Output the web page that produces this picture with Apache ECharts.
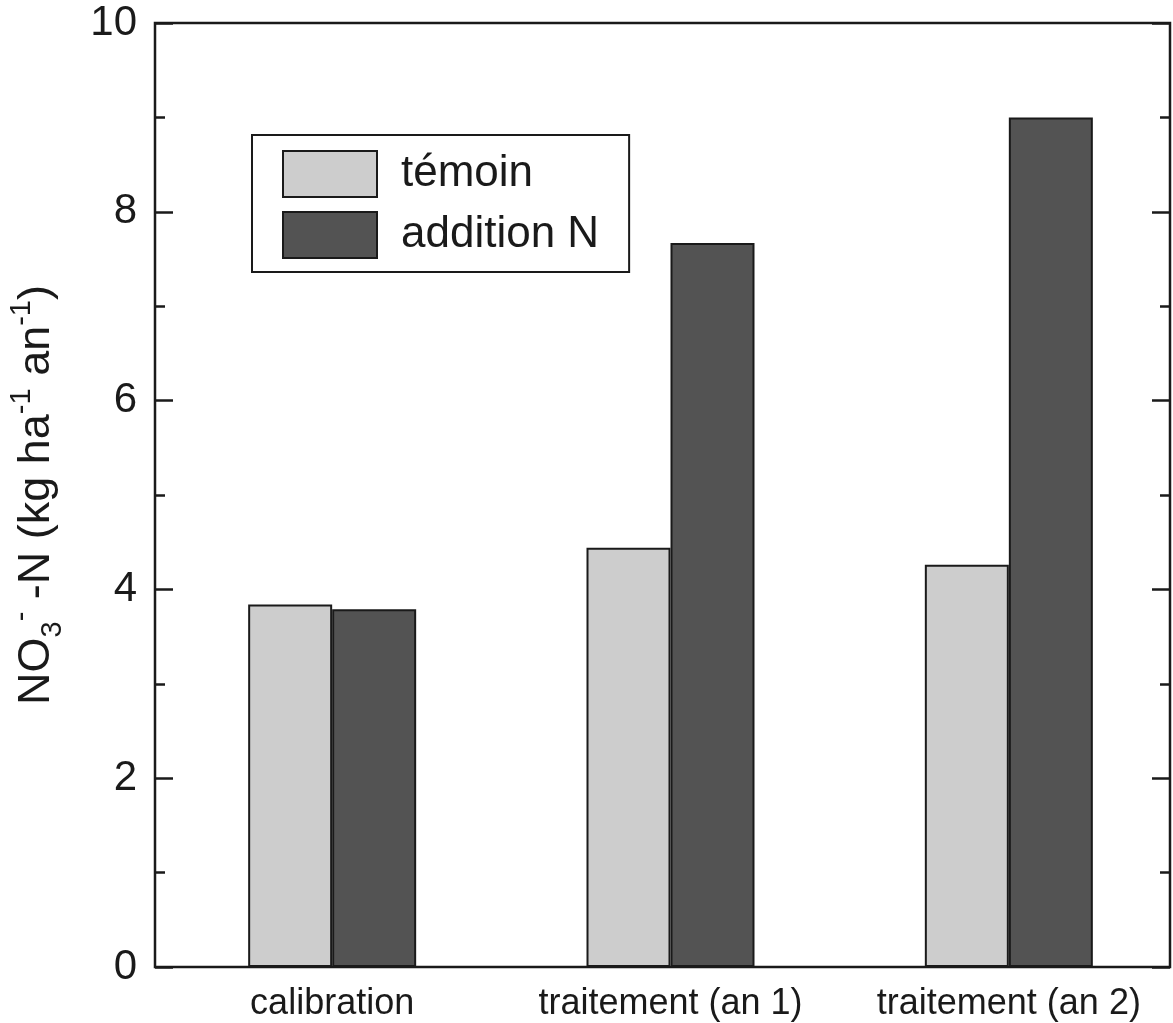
<!DOCTYPE html>
<html>
<head>
<meta charset="utf-8">
<script src="https://cdn.jsdelivr.net/npm/echarts@6/dist/echarts.min.js"></script>
<style>
  html, body { margin: 0; padding: 0; background: #fff; }
  #chart { width: 1173px; height: 1023px; }
</style>
</head>
<body>
<div id="chart"></div>
<script>
// données
const categories = ['calibration', 'traitement (an 1)', 'traitement (an 2)']
const temoin = [3.84, 4.44, 4.26]
const additionN = [3.79, 7.67, 9.0]
const seriesNames = ['témoin', 'addition N']

const font = 'Liberation Sans, Arial, Helvetica, sans-serif'
const chart = echarts.init(document.getElementById('chart'))

const option = {
    backgroundColor: '#fff',
    animation: false,
    textStyle: { fontFamily: font, color: '#1a1a1a' },
    legend: {
        data: seriesNames,
        orient: 'vertical',
        left: 252,
        top: 135,
        padding: [15, 30, 13, 30],
        itemWidth: 94,
        itemHeight: 46,
        itemGap: 13,
        icon: 'rect',
        backgroundColor: '#fff',
        borderColor: '#1a1a1a',
        borderWidth: 2,
        borderRadius: 0,
        textStyle: { fontSize: 44, fontFamily: font, color: '#1a1a1a', padding: [0, 0, 0, 19] }
    },
    grid: [
        // cadre
        { left: 155, top: 23, width: 1015, height: 944, outerBoundsMode: 'none', show: true, borderColor: '#1a1a1a', borderWidth: 2.5, backgroundColor: 'transparent' },
        // barres
        { left: 163, top: 23, width: 1015, height: 944, outerBoundsMode: 'none' }
    ],
    xAxis: [
        { gridIndex: 0, type: 'value', min: 0, max: 1, show: false },
        {
            gridIndex: 1,
            type: 'category',
            data: categories,
            axisLine: { show: false },
            axisTick: { show: false },
            axisLabel: { fontSize: 36, fontFamily: font, color: '#1a1a1a', margin: 19, interval: 0 }
        }
    ],
    yAxis: [
        {
            gridIndex: 0,
            type: 'value',
            min: 0,
            max: 10,
            interval: 2,
            position: 'left',
            axisLine: { show: false },
            axisTick: { show: true, inside: true, length: 18, lineStyle: { color: '#1a1a1a', width: 2.5 } },
            minorTick: { show: true, splitNumber: 2, length: 10, lineStyle: { color: '#1a1a1a', width: 2.5 } },
            splitLine: { show: false },
            axisLabel: { fontSize: 42, fontFamily: font, color: '#1a1a1a', margin: 18 },
            name: '{n|NO}{sub|3}{sup|-}{n| -N (kg ha}{sup|-1}{n| an}{sup|-1}{n|)}',
            nameLocation: 'middle',
            nameGap: 88,
            nameRotate: 90,
            nameTextStyle: {
                rich: {
                    n: { fontSize: 45, fontFamily: font, color: '#1a1a1a', verticalAlign: 'middle' },
                    sub: { fontSize: 29, fontFamily: font, color: '#1a1a1a', verticalAlign: 'bottom', lineHeight: 60 },
                    sup: { fontSize: 29, fontFamily: font, color: '#1a1a1a', verticalAlign: 'top', lineHeight: 60 }
                }
            }
        },
        {
            gridIndex: 0,
            type: 'value',
            min: 0,
            max: 10,
            interval: 2,
            position: 'right',
            axisLine: { show: false },
            axisTick: { show: true, inside: true, length: 18, lineStyle: { color: '#1a1a1a', width: 2.5 } },
            minorTick: { show: true, splitNumber: 2, length: 10, lineStyle: { color: '#1a1a1a', width: 2.5 } },
            splitLine: { show: false },
            axisLabel: { show: false }
        },
        { gridIndex: 1, type: 'value', min: 0, max: 10, show: false }
    ],
    series: [
        {
            name: seriesNames[0],
            type: 'bar',
            xAxisIndex: 1,
            yAxisIndex: 2,
            data: temoin,
            barWidth: 84,
            barGap: '0%',
            itemStyle: { color: '#cdcdcd', borderColor: '#1a1a1a', borderWidth: 2 }
        },
        {
            name: seriesNames[1],
            type: 'bar',
            xAxisIndex: 1,
            yAxisIndex: 2,
            data: additionN,
            barWidth: 84,
            barGap: '0%',
            itemStyle: { color: '#535353', borderColor: '#1a1a1a', borderWidth: 2 }
        }
    ]
}

chart.setOption(option)
</script>
</body>
</html>
